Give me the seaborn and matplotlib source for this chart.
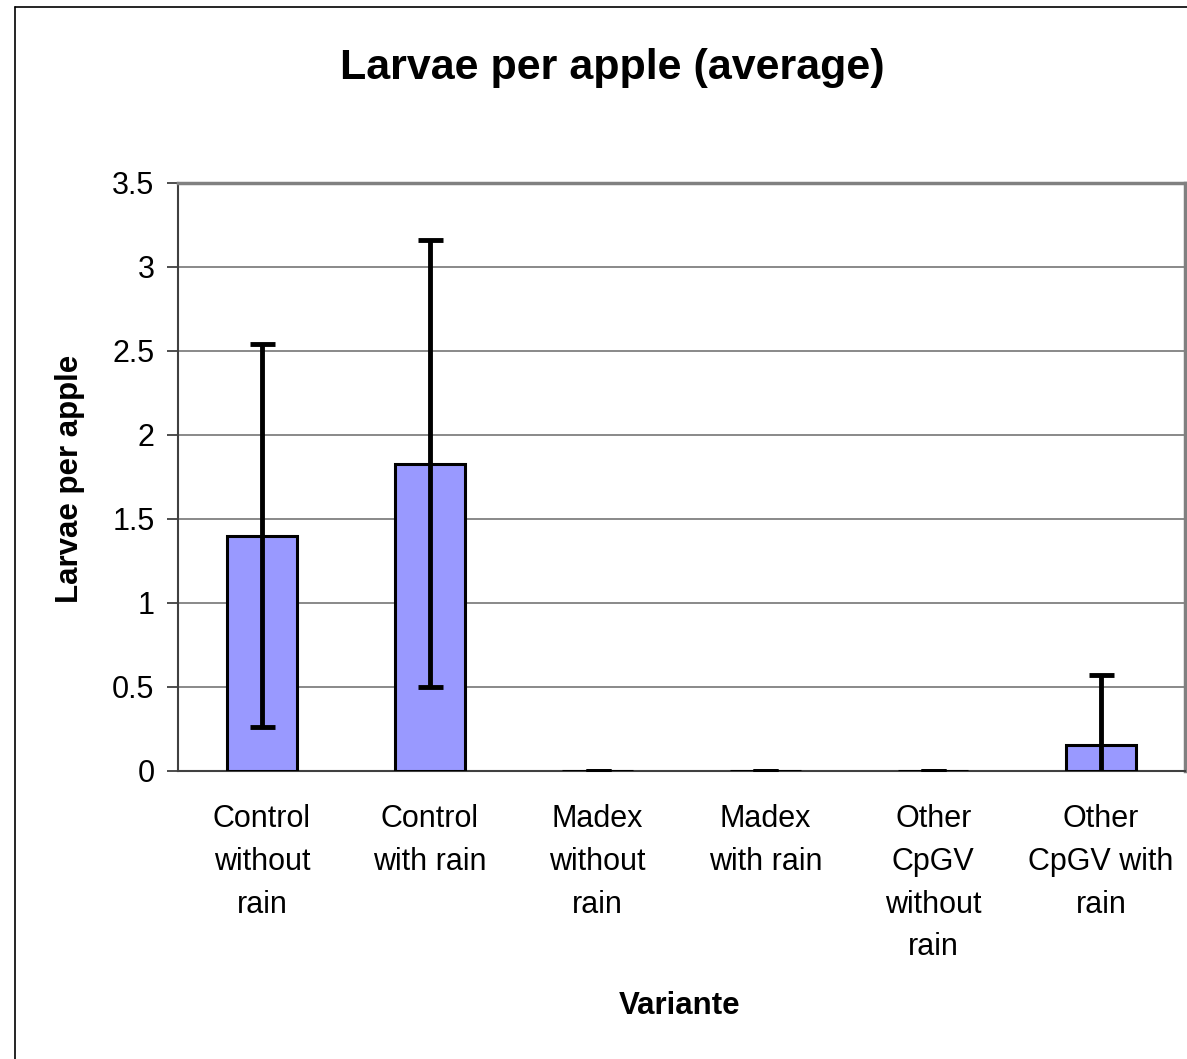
import numpy as np
import matplotlib.pyplot as plt
from matplotlib.lines import Line2D
import pandas as pd
import seaborn as sns

# values
variants = ['Control\nwithout\nrain', 'Control\nwith rain', 'Madex\nwithout\nrain',
            'Madex\nwith rain', 'Other\nCpGV\nwithout\nrain', 'Other\nCpGV with\nrain']
larvae_mean = [1.40, 1.83, 0.0, 0.0, 0.0, 0.155]
larvae_sd = [1.14, 1.33, 0.0, 0.0, 0.0, 0.415]
y_ticks = [0, 0.5, 1, 1.5, 2, 2.5, 3, 3.5]
y_tick_labels = ['0', '0.5', '1', '1.5', '2', '2.5', '3', '3.5']

df = pd.DataFrame({'Variante': variants, 'Larvae': larvae_mean})

sns.set_style('white')
plt.rcParams['font.family'] = ['Liberation Sans', 'DejaVu Sans']
plt.rcParams['text.color'] = 'black'
plt.rcParams['xtick.labelcolor'] = 'black'
plt.rcParams['ytick.labelcolor'] = 'black'

fig = plt.figure(figsize=(11.87, 10.59), dpi=100)
ax = fig.add_axes([178 / 1187, 1 - 771 / 1059, 1007 / 1187, 588 / 1059])

sns.barplot(data=df, x='Variante', y='Larvae', color='#9999FF', saturation=1,
            width=0.42, edgecolor='black', linewidth=2.2, ax=ax, zorder=3)

ax.errorbar(range(len(variants)), larvae_mean, yerr=larvae_sd, fmt='none',
            ecolor='black', elinewidth=3.5, capsize=9, capthick=3.5, zorder=4)

ax.set_ylim(0, 3.5)
ax.set_xlim(-0.5, len(variants) - 0.5)
ax.set_yticks(y_ticks)
ax.set_yticklabels(y_tick_labels)
ax.yaxis.grid(True, color='#808080', linewidth=1.3, zorder=0)
ax.set_axisbelow(True)

# category boundary ticks below the axis, labels centred
ax.set_xticks(np.arange(-0.5, len(variants)), minor=True)
ax.tick_params(axis='x', which='minor', length=11, width=1.3, color='#606060', direction='out')
ax.tick_params(axis='x', which='major', length=0, pad=24, labelsize=22)
for lbl in ax.get_xticklabels():
    lbl.set_linespacing(1.55)
ax.tick_params(axis='y', length=8, width=1.3, color='#404040', direction='out',
               left=True, pad=9, labelsize=22)

for side in ['top', 'right']:
    ax.spines[side].set_color('#808080')
    ax.spines[side].set_linewidth(2.5)
for side in ['left', 'bottom']:
    ax.spines[side].set_color('#404040')
    ax.spines[side].set_linewidth(1.5)

ax.set_xlabel('')
ax.set_ylabel('')
fig.text(70 / 1187, 1 - 479 / 1059, 'Larvae per apple', rotation=90, ha='center', va='center',
         fontsize=22.5, fontweight='bold')
fig.text(680 / 1187, 1 - 1006 / 1059, 'Variante', ha='center', va='center',
         fontsize=22.5, fontweight='bold')
fig.text(612 / 1187, 1 - 68 / 1059, 'Larvae per apple (average)', ha='center', va='center',
         fontsize=31, fontweight='bold')

# chart area border (top and left visible in the reference)
fig.add_artist(Line2D([15 / 1187, 1], [1 - 7 / 1059, 1 - 7 / 1059], color='black', linewidth=1.2))
fig.add_artist(Line2D([15 / 1187, 15 / 1187], [0, 1 - 7 / 1059], color='black', linewidth=1.2))

fig.savefig('out.png', dpi=100)
